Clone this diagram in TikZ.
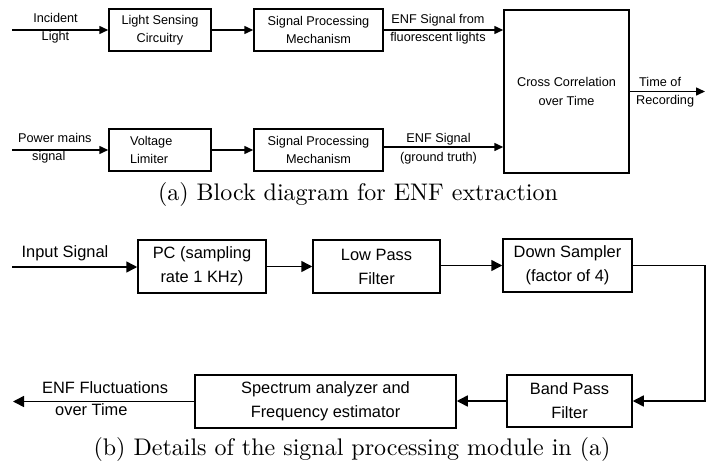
\documentclass[tikz,border=0pt]{standalone}
\usepackage{fontspec}
\setsansfont{Liberation Sans}
\newfontfamily\capfont[Extension=.otf]{lmroman10-regular}
\usetikzlibrary{arrows.meta}
\begin{document}
\begin{tikzpicture}[x=1pt,y=-1pt,
  box/.style={draw,line width=1.5pt,inner sep=0pt,align=center},
  topf/.style={font=\sffamily\fontsize{12.7}{18.5}\selectfont},
  botf/.style={font=\sffamily\fontsize{16.4}{24}\selectfont},
  arrA/.style={line width=1.5pt,-{Triangle[length=9pt,width=8pt]}},
  arrB/.style={line width=1.5pt,-{Triangle[length=11pt,width=11pt]}},
  lbl/.style={inner sep=0pt,align=center},
  captext/.style={inner sep=0pt,font=\capfont\fontsize{24}{28}\selectfont,anchor=base}]
\useasboundingbox (0,0) rectangle (707,461);
% ---------- (a) ----------
\node[box,topf,minimum width=102pt,minimum height=42pt] (lsc) at (160,30) {Light Sensing\\Circuitry};
\node[box,topf,minimum width=129pt,minimum height=42pt] (sp1) at (318.5,30) {Signal Processing\\Mechanism};
\node[box,topf,minimum width=125pt,minimum height=163pt] (cc) at (566.5,91.5) {Cross Correlation\\over Time};
\node[box,topf,minimum width=102pt,minimum height=42pt,text width=60pt,align=left] (vl) at (160,150) {Voltage\\Limiter};
\node[box,topf,minimum width=129pt,minimum height=42pt] (sp2) at (318.5,150) {Signal Processing\\Mechanism};
\coordinate (in1) at (12,30);
\coordinate (in2) at (12,150);
\coordinate (out1) at (705,92);
\draw[arrA] (in1) -- (lsc.west);
\draw[arrA] (lsc.east) -- (sp1.west);
\draw[arrA] (sp1.east) -- (sp1.east -| cc.west);
\draw[arrA] (in2) -- (vl.west);
\draw[arrA] (vl.east) -- (sp2.west);
\draw[arrA] ([yshift=3pt]sp2.east) -- ([yshift=3pt]sp2.east -| cc.west);
\draw[arrA] (cc.east) -- (out1 |- cc.east);
\node[lbl,topf] (l1) at (55.5,28) {Incident\\Light};
\node[lbl,topf] (l2) at (438,29) {ENF Signal from\\fluorescent lights};
\node[lbl,topf,align=left,anchor=west] (l3) at (636,92) {\hspace*{3pt}Time of\\Recording};
\node[lbl,topf,align=left,anchor=west] (l4) at (18,148) {Power mains\\\hspace*{14pt}signal};
\node[lbl,topf] (l5) at (438.5,148.5) {ENF Signal\\(ground truth)};
\node[captext] (capa) at (358,200) {(a) Block diagram for ENF extraction};
% ---------- (b) ----------
\node[box,botf,minimum width=128pt,minimum height=53pt] (pc) at (202,266.5) {PC (sampling\\rate 1 KHz)};
\node[box,botf,minimum width=127pt,minimum height=53pt] (lpf) at (376.5,266.5) {Low Pass\\Filter};
\node[box,botf,minimum width=129pt,minimum height=53pt] (ds) at (567.5,265.5) {Down Sampler\\(factor of 4)};
\node[box,botf,minimum width=125pt,minimum height=52pt] (bpf) at (569.5,401) {Band Pass\\Filter};
\node[box,botf,minimum width=261pt,minimum height=53pt] (sa) at (325.5,401.5) {Spectrum analyzer and\\Frequency estimator};
\coordinate (in3) at (12,267);
\coordinate (turn) at (705,265.5);
\coordinate (out2) at (13,401);
\draw[arrB] (in3) -- (in3 -| pc.west);
\draw[arrB] (pc.east) -- (pc.east -| lpf.west);
\draw[arrB] (lpf.east |- ds.west) -- (ds.west);
\draw[arrB] (ds.east) -- (turn) |- (bpf.east);
\draw[arrB] (bpf.west) -- (bpf.west -| sa.east);
\draw[arrB] (sa.west) -- (out2 |- sa.west);
\node[lbl,botf] (l6) at (65,253) {Input Signal};
\node[lbl,botf,align=left,anchor=west,font=\sffamily\fontsize{16.4}{22}\selectfont] (l7) at (42,399) {ENF Fluctuations\\\hspace*{13pt}over Time};
\node[captext] (capb) at (352,455) {(b) Details of the signal processing module in (a)};
\end{tikzpicture}
\end{document}
